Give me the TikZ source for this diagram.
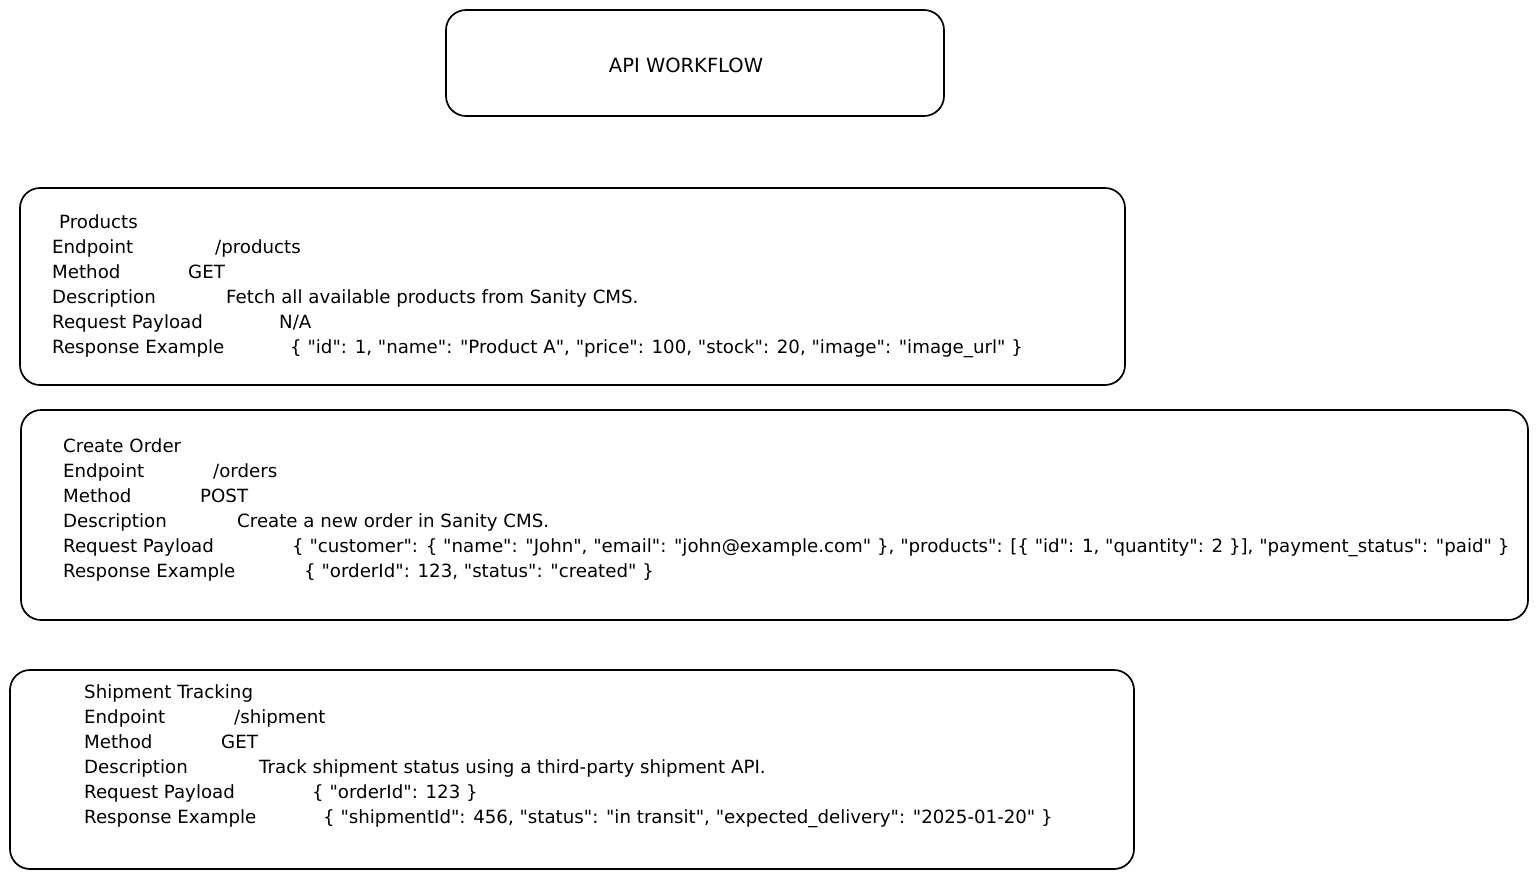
\documentclass[tikz,border=0pt]{standalone}
\usepackage{fontspec}
\setmainfont{DejaVu Sans}[Ligatures=TeXOff]
\usetikzlibrary{positioning}

% label column of fixed width, then the value
\newcommand{\fieldrow}[3]{\makebox[#1pt][l]{#2}#3}

\begin{document}
\begin{tikzpicture}[
    x=1pt, y=-1pt,
    card/.style={draw, line width=1.7pt, rounded corners=20pt, inner sep=0pt},
    cardtext/.style={anchor=north west, align=left, inner sep=0pt, font=\fontsize{18.2}{25}\selectfont},
    titletext/.style={font=\fontsize{19.5}{25}\selectfont}
]
    \useasboundingbox (0,0) rectangle (1538,879);

    % title
    \node[card, minimum width=498pt, minimum height=106pt] (title) at (695,63) {};
    \node[titletext] (titlelabel) at (686,65) {API WORKFLOW};

    % products
    \node[card, minimum width=1105pt, minimum height=197pt] (products) at (572.5,286.5) {};
    \node[cardtext] (productstext) at (52,214) {%
        \hspace*{7pt}Products\\
        \fieldrow{163}{Endpoint}{/products}\\
        \fieldrow{136}{Method}{GET}\\
        \fieldrow{174}{Description}{Fetch all available products from Sanity CMS.}\\
        \fieldrow{227}{Request Payload}{N/A}\\
        \fieldrow{238}{Response Example}{\{ "id": 1, "name": "Product A", "price": 100, "stock": 20, "image": "image\_url" \}}};

    % create order
    \node[card, minimum width=1507pt, minimum height=210pt] (orders) at (774.5,515) {};
    \node[cardtext] (orderstext) at (63,438) {%
        Create Order\\
        \fieldrow{150}{Endpoint}{/orders}\\
        \fieldrow{137}{Method}{POST}\\
        \fieldrow{174}{Description}{Create a new order in Sanity CMS.}\\
        \fieldrow{229}{Request Payload}{\{ "customer": \{ "name": "John", "email": "john@example.com" \}, "products": [\{ "id": 1, "quantity": 2 \}], "payment\_status": "paid" \}}\\
        \fieldrow{241}{Response Example}{\{ "orderId": 123, "status": "created" \}}};

    % shipment tracking
    \node[card, minimum width=1124pt, minimum height=199pt] (shipment) at (572,769.5) {};
    \node[cardtext] (shipmenttext) at (84,684) {%
        Shipment Tracking\\
        \fieldrow{150}{Endpoint}{/shipment}\\
        \fieldrow{137}{Method}{GET}\\
        \fieldrow{175}{Description}{Track shipment status using a third-party shipment API.}\\
        \fieldrow{228}{Request Payload}{\{ "orderId": 123 \}}\\
        \fieldrow{239}{Response Example}{\{ "shipmentId": 456, "status": "in transit", "expected\_delivery": "2025-01-20" \}}};
\end{tikzpicture}
\end{document}
